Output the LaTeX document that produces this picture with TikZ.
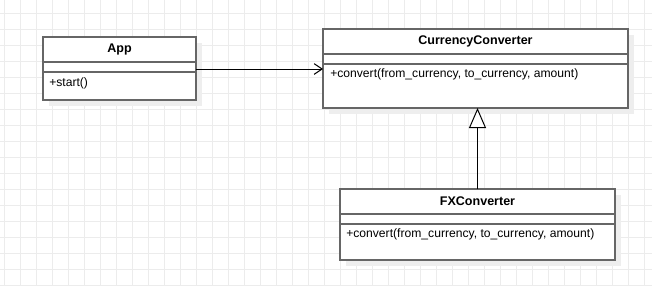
\documentclass[tikz,border=0pt]{standalone}
\usepackage{fontspec}
\setmainfont{Liberation Sans}
\definecolor{BoxGray}{RGB}{102,102,102}
\definecolor{GridGray}{RGB}{236,236,236}
\definecolor{ShadowGray}{RGB}{238,238,238}
\usetikzlibrary{positioning,arrows.meta,calc,backgrounds}
\tikzset{classtitle/.style={draw=BoxGray,line width=1.1pt,fill=white,minimum height=18.75pt,inner sep=0pt,outer sep=0pt,font=\fontsize{9.4}{11}\selectfont\bfseries}}
\tikzset{classpart/.style={draw=BoxGray,line width=1.1pt,fill=white,inner sep=0pt,outer sep=0pt}}
\tikzset{opstext/.style={inner sep=0pt,anchor=west,font=\fontsize{9.1}{11}\selectfont}}
\tikzset{assoc/.style={-{Straight Barb[length=6pt,width=8pt]},line width=0.75pt}}
\tikzset{inherit/.style={-{Triangle[open,length=15pt,width=12.75pt,fill=white]},line width=0.75pt}}
\tikzset{gridline/.style={GridGray,line width=0.75pt}}
\tikzset{shadowbox/.style={fill=ShadowGray}}

\begin{document}
\begin{tikzpicture}[x=0.75pt,y=-0.75pt]
        \useasboundingbox (0,0) rectangle (652,286);
        \node[classtitle,minimum width=114.75pt](app) at (119.5,49.5) {App};
        \node[classpart,minimum width=114.75pt,minimum height=7.5pt,below=0pt of app](appattr) {};
        \node[classpart,minimum width=114.75pt,minimum height=21pt,below=0pt of appattr](appops) {};
        \node[opstext](appm) at ($(appops.north west)+(6,11)$) {+start()};

        \node[classtitle,minimum width=228.75pt](cc) at (475.5,41.5) {CurrencyConverter};
        \node[classpart,minimum width=228.75pt,minimum height=7.5pt,below=0pt of cc](ccattr) {};
        \node[classpart,minimum width=228.75pt,minimum height=33pt,below=0pt of ccattr](ccops) {};
        \node[opstext](ccm) at ($(ccops.north west)+(7,10.5)$) {+convert(from\_currency, to\_currency, amount)};

        \node[classtitle,minimum width=206.25pt](fx) at (477.5,201.5) {FXConverter};
        \node[classpart,minimum width=206.25pt,minimum height=7.5pt,below=0pt of fx](fxattr) {};
        \node[classpart,minimum width=206.25pt,minimum height=27pt,below=0pt of fxattr](fxops) {};
        \node[opstext](fxm) at ($(fxops.north west)+(6,10.5)$) {+convert(from\_currency, to\_currency, amount)};

        \draw[assoc] (appattr.south east) ++(0,-3) coordinate (s) -- (s -| ccops.west);
        \draw[inherit] (fx.north) -- (fx.north |- ccops.south);

        \begin{scope}[on background layer]
            \foreach \gx in {4,20,...,644} \draw[gridline] (\gx,0) -- (\gx,286);
            \foreach \gy in {13,29,...,285} \draw[gridline] (0,\gy) -- (652,\gy);
            \fill[shadowbox] ($(app.north west)+(6,6)$) rectangle ($(appops.south east)+(6,6)$);
            \fill[shadowbox] ($(cc.north west)+(6,6)$) rectangle ($(ccops.south east)+(6,6)$);
            \fill[shadowbox] ($(fx.north west)+(6,6)$) rectangle ($(fxops.south east)+(6,6)$);
        \end{scope}
    \end{tikzpicture}
\end{document}
